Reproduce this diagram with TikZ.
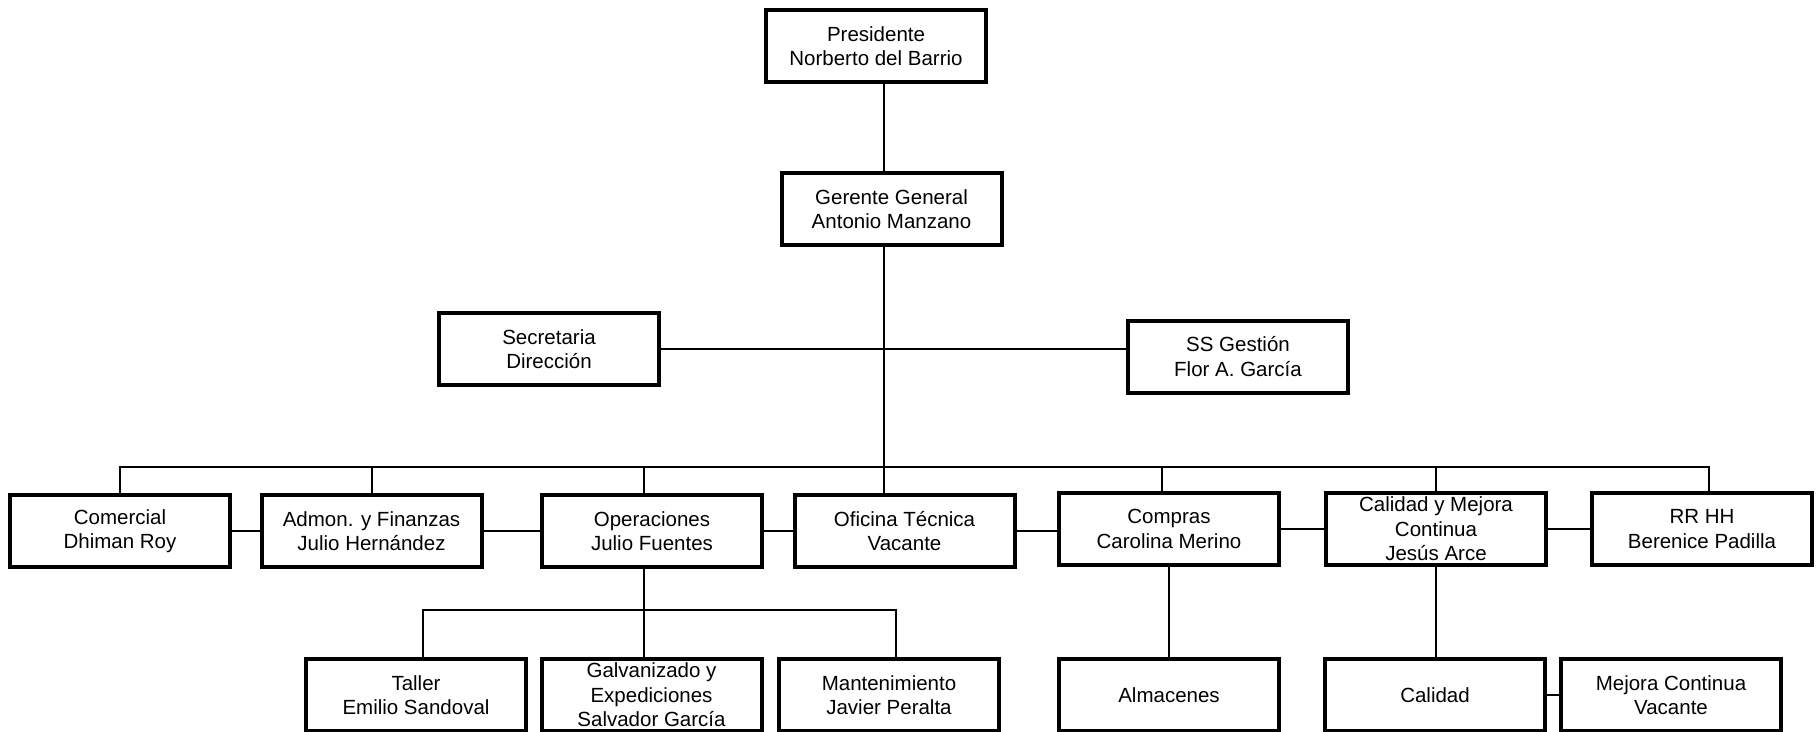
\documentclass[tikz,border=0pt]{standalone}
\usepackage{fontspec}
\setmainfont{Liberation Sans}
\tikzset{
	cargobox/.style={draw, line width=4pt, minimum width=220pt, minimum height=72pt, inner sep=0pt, align=center, font=\fontsize{20.5}{24.5}\selectfont},
	enlace/.style={line width=2pt},
}
\begin{document}
\begin{tikzpicture}[x=1pt, y=-1pt]
	\useasboundingbox[fill=white] (0,0) rectangle (1820,731);
	\clip (0,0) rectangle (1820,731);
	% direccion
	\node[cargobox] (pres) at (876,46) {Presidente\\Norberto del Barrio};
	\node[cargobox] (ger) at (891.5,209) {Gerente General\\Antonio Manzano};
	\node[cargobox] (sec) at (549,349) {Secretaria\\Dirección};
	\node[cargobox] (ssg) at (1238,356.5) {SS Gestión\\Flor A. García};
	% departamentos
	\node[cargobox] (com) at (120,531) {Comercial\\Dhiman Roy};
	\node[cargobox] (adm) at (371.5,531) {Admon. y Finanzas\\Julio Hernández};
	\node[cargobox] (ope) at (652,531) {Operaciones\\Julio Fuentes};
	\node[cargobox] (ofi) at (904.5,531) {Oficina Técnica\\Vacante};
	\node[cargobox] (cpr) at (1169,529) {Compras\\Carolina Merino};
	\node[cargobox] (cmc) at (1436,529) {Calidad y Mejora\\Continua\\Jesús Arce};
	\node[cargobox] (rrh) at (1702,529) {RR HH\\Berenice Padilla};
	% secciones
	\node[cargobox] (tal) at (416,695) {Taller\\Emilio Sandoval};
	\node[cargobox] (gal) at (651.5,695) {Galvanizado y\\Expediciones\\Salvador García};
	\node[cargobox] (man) at (889,695) {Mantenimiento\\Javier Peralta};
	\node[cargobox] (alm) at (1169,695) {Almacenes};
	\node[cargobox] (cal) at (1435,695) {Calidad};
	\node[cargobox] (mej) at (1671,695) {Mejora Continua\\Vacante};
	\coordinate (tronco) at (884,467);
	\coordinate (subbus) at (644,610);
	% lineas
	\draw[enlace] (pres.south -| tronco) -- (ger.north -| tronco);
	\draw[enlace] (ger.south -| tronco) -- (tronco);
	\draw[enlace] (sec.east) -- (sec.east -| ssg.west);
	\draw[enlace] (com.north) |- (tronco) -| ([xshift=7pt]rrh.north);
	\foreach \n/\d in {adm/0, cpr/-7, cmc/0}
		\draw[enlace] ([xshift=\d pt]\n.north) -- ([xshift=\d pt]\n.north |- tronco);
	\draw[enlace] (tronco) -- (tronco |- ofi.north);
	\draw[enlace] (ope.north -| subbus) -- (tronco -| subbus);
	\foreach \a/\b in {com/adm, adm/ope, ope/ofi, ofi/cpr, cpr/cmc, cmc/rrh}
		\draw[enlace] (\a.east) -- (\a.east -| \b.west);
	\draw[enlace] (ope.south -| subbus) -- (gal.north -| subbus);
	\draw[enlace] ([xshift=7pt]tal.north) |- (subbus) -| ([xshift=7pt]man.north);
	\draw[enlace] (cpr.south) -- (alm.north);
	\draw[enlace] (cmc.south) -- (cmc.south |- cal.north);
	\draw[enlace] (cal.east) -- (cal.east -| mej.west);
\end{tikzpicture}
\end{document}
